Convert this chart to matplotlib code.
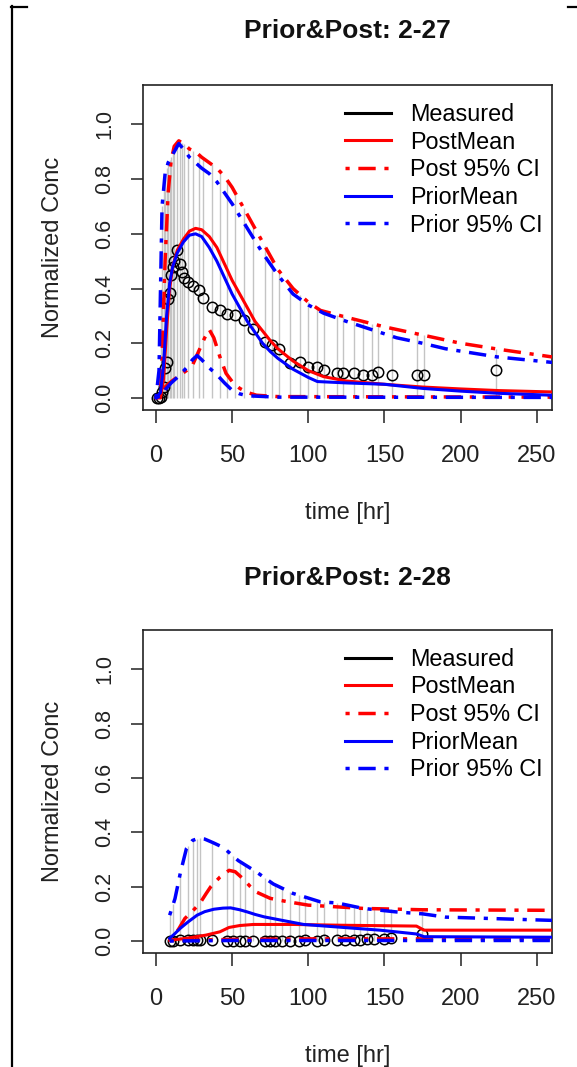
import numpy as np
import matplotlib
matplotlib.use('Agg')
import matplotlib.pyplot as plt
from matplotlib.lines import Line2D

plt.rcParams['font.family'] = ['Liberation Sans', 'DejaVu Sans']

# ---- panel 1: 2-27 ----
meas_t_27 = [0.5, 2, 3, 4, 5, 6, 7, 8, 9, 10, 11, 12, 13.5, 15.5, 17, 18.5, 21, 24.5, 28, 31,
             36.5, 42, 46.5, 52, 57.5, 64, 71.5, 76, 80.5, 88, 94.5, 100, 105.5, 110, 119, 123,
             130, 136, 142, 146, 155, 171.5, 176, 223]
meas_y_27 = [0.0, 0.0, 0.005, 0.02, 0.04, 0.11, 0.13, 0.36, 0.385, 0.45, 0.48, 0.5, 0.54, 0.49,
             0.46, 0.44, 0.425, 0.41, 0.395, 0.365, 0.333, 0.32, 0.308, 0.302, 0.284, 0.253,
             0.205, 0.193, 0.18, 0.126, 0.132, 0.115, 0.114, 0.102, 0.09, 0.09, 0.09, 0.084,
             0.084, 0.096, 0.084, 0.084, 0.084, 0.102]

post_mean_t_27 = [0, 3, 5, 7, 9, 11, 14, 18, 22, 26, 30, 35, 40, 45, 50, 55, 60, 65, 70, 75, 80,
                  90, 100, 110, 125, 150, 175, 200, 225, 260]
post_mean_27 = [0.0, 0.0, 0.07, 0.25, 0.4, 0.48, 0.54, 0.58, 0.61, 0.62, 0.615, 0.59, 0.55, 0.49,
                0.43, 0.38, 0.33, 0.28, 0.245, 0.21, 0.18, 0.135, 0.1, 0.078, 0.062, 0.05, 0.04,
                0.033, 0.027, 0.022]

prior_mean_t_27 = [0, 3, 5, 7, 9, 11, 14, 18, 22, 26, 30, 35, 40, 45, 50, 55, 60, 65, 70, 75, 80,
                   90, 100, 106, 125, 150, 175, 200, 225, 260]
prior_mean_27 = [0.0, 0.02, 0.12, 0.3, 0.42, 0.48, 0.53, 0.57, 0.595, 0.6, 0.59, 0.55, 0.5, 0.44,
                 0.38, 0.33, 0.28, 0.24, 0.2, 0.17, 0.145, 0.105, 0.075, 0.06, 0.055, 0.05, 0.035,
                 0.025, 0.017, 0.01]

post_hi_t_27 = [0, 3, 4, 6, 8, 10, 12, 15, 18, 22, 26, 30, 35, 40, 45, 50, 55, 60, 65, 70, 75, 80,
                90, 100, 108, 125, 150, 175, 200, 225, 260]
post_hi_27 = [0.0, 0.02, 0.15, 0.5, 0.75, 0.87, 0.92, 0.94, 0.93, 0.91, 0.9, 0.88, 0.86, 0.84,
              0.81, 0.77, 0.72, 0.67, 0.62, 0.57, 0.52, 0.47, 0.4, 0.35, 0.32, 0.295, 0.26, 0.23,
              0.2, 0.178, 0.15]

prior_hi_t_27 = [0, 2, 3, 4, 6, 8, 10, 12, 15, 18, 22, 26, 30, 35, 40, 50, 60, 70, 80, 90, 100,
                 110, 125, 136, 158, 175, 190, 224, 260]
prior_hi_27 = [0.0, 0.1, 0.4, 0.7, 0.82, 0.86, 0.88, 0.9, 0.93, 0.91, 0.88, 0.86, 0.84, 0.82, 0.79,
               0.71, 0.62, 0.53, 0.45, 0.38, 0.34, 0.31, 0.28, 0.26, 0.22, 0.2, 0.18, 0.15, 0.13]

post_lo_t_27 = [0, 4, 6, 10, 15, 20, 24, 28, 32, 35, 38, 42, 46, 50, 55, 60, 66, 80, 260]
post_lo_27 = [0.0, 0.01, 0.04, 0.06, 0.08, 0.1, 0.12, 0.17, 0.22, 0.25, 0.22, 0.15, 0.09, 0.06,
              0.035, 0.02, 0.01, 0.005, 0.003]

prior_lo_t_27 = [0, 4, 6, 10, 15, 20, 24, 27, 30, 35, 40, 45, 50, 55, 60, 80, 260]
prior_lo_27 = [0.0, 0.01, 0.03, 0.055, 0.08, 0.11, 0.14, 0.155, 0.14, 0.11, 0.085, 0.055, 0.028,
               0.015, 0.008, 0.003, 0.002]

# ---- panel 2: 2-28 ----
meas_t_28 = [9.2, 11.4, 15.8, 21.3, 24.6, 26.8, 28.9, 36.6, 46.5, 50.9, 55.3, 58.6, 64, 71.7, 75,
             78.3, 82.7, 88.2, 93.6, 98, 105.7, 110, 118.9, 124.3, 129.8, 134.2, 138.6, 143,
             149.6, 154, 174.8]
meas_y_28 = [0.0, 0.0, 0.002, 0.004, 0.004, 0.003, 0.003, 0.002, 0.0, 0.0, 0.0, 0.0, 0.0, 0.0,
             0.0, 0.0, 0.0, 0.0, 0.0, 0.003, 0.0, 0.005, 0.005, 0.004, 0.004, 0.004, 0.006,
             0.008, 0.008, 0.01, 0.025]

post_mean_t_28 = [9, 20, 33, 42, 48, 55, 64, 90, 123, 171, 176, 260]
post_mean_28 = [0.003, 0.01, 0.022, 0.034, 0.05, 0.057, 0.061, 0.061, 0.058, 0.055, 0.04, 0.04]

prior_mean_t_28 = [9, 12, 16, 21, 27, 32, 38, 44, 49, 55, 60, 65, 71, 82, 97, 123, 147, 171, 176,
                   260]
prior_mean_28 = [0.01, 0.025, 0.047, 0.07, 0.095, 0.108, 0.117, 0.121, 0.122, 0.115, 0.107, 0.098,
                 0.089, 0.077, 0.061, 0.05, 0.04, 0.026, 0.016, 0.014]

post_hi_t_28 = [9, 12, 15, 19, 24, 29, 33, 36, 42, 48, 52, 57, 62, 66, 75, 86, 100, 115, 136, 175,
                260]
post_hi_28 = [0.0, 0.02, 0.045, 0.083, 0.11, 0.14, 0.175, 0.2, 0.235, 0.26, 0.255, 0.23, 0.2,
              0.18, 0.157, 0.145, 0.132, 0.127, 0.12, 0.115, 0.113]

prior_hi_t_28 = [9, 12.5, 16, 20, 24, 28, 32, 37, 42, 46.5, 54, 60, 66, 77, 90, 96, 108, 119, 136,
                 158, 175, 190, 225, 260]
prior_hi_28 = [0.095, 0.156, 0.25, 0.34, 0.37, 0.378, 0.375, 0.363, 0.35, 0.333, 0.296, 0.275,
               0.254, 0.21, 0.175, 0.165, 0.144, 0.14, 0.12, 0.107, 0.1, 0.088, 0.082, 0.076]

post_lo_t_28 = [9, 50, 100, 175, 260]
post_lo_28 = [0.002, 0.006, 0.008, 0.008, 0.008]

prior_lo_t_28 = [9, 50, 100, 175, 260]
prior_lo_28 = [0.0, 0.002, 0.002, 0.002, 0.002]

titles = ['Prior&Post: 2-27', 'Prior&Post: 2-28']
x_ticks = [0, 50, 100, 150, 200, 250]
y_ticks = [0.0, 0.2, 0.4, 0.6, 0.8, 1.0]
legend_labels = ['Measured', 'PostMean', 'Post 95% CI', 'PriorMean', 'Prior 95% CI']

W, H = 577, 1067
fig = plt.figure(figsize=(W / 100, H / 100), dpi=100)

DASHDOT = (1.2, 2.5, 5, 2.5)


def panel(ax, mt, my, pm_t, pm, qm_t, qm, ph_t, ph, qh_t, qh, pl_t, pl, ql_t, ql):
    mt = np.asarray(mt)
    top = np.maximum(np.interp(mt, ph_t, ph), np.interp(mt, qh_t, qh))
    ax.vlines(mt, 0, top, color='#c4c4c4', lw=1.0, zorder=1)
    ax.plot(mt, my, 'o', mfc='none', mec='black', ms=7.5, mew=1.1, zorder=2)
    ax.plot(pm_t, pm, color='red', lw=2.2, zorder=3)
    ax.plot(ph_t, ph, color='red', lw=2.5, dashes=DASHDOT, zorder=3)
    ax.plot(pl_t, pl, color='red', lw=2.5, dashes=DASHDOT, zorder=3)
    ax.plot(qm_t, qm, color='blue', lw=2.2, zorder=4)
    ax.plot(qh_t, qh, color='blue', lw=2.5, dashes=DASHDOT, zorder=4)
    ax.plot(ql_t, ql, color='blue', lw=2.5, dashes=DASHDOT, zorder=4)

    ax.set_xlim(-8.5, 260)
    ax.set_ylim(-0.044, 1.144)
    ax.set_xticks(x_ticks)
    ax.set_xticklabels([str(v) for v in x_ticks], fontsize=17)
    ax.set_yticks(y_ticks)
    ax.set_yticklabels(['%.1f' % v for v in y_ticks], fontsize=15.5, rotation=90, va='center')
    ax.tick_params(axis='x', length=9, width=1.1, pad=16, colors='#222222')
    ax.tick_params(axis='y', length=9, width=1.1, pad=11, colors='#222222')
    for s in ax.spines.values():
        s.set_linewidth(1.2)
        s.set_color('#222222')

    handles = [Line2D([], [], color='black', lw=2.2),
               Line2D([], [], color='red', lw=2.2),
               Line2D([], [], color='red', lw=2.5, dashes=DASHDOT),
               Line2D([], [], color='blue', lw=2.2),
               Line2D([], [], color='blue', lw=2.5, dashes=DASHDOT)]
    ax.legend(handles, legend_labels, loc='upper right', bbox_to_anchor=(0.978, 0.945),
              frameon=False, fontsize=16.8, handlelength=1.95, handletextpad=0.85,
              labelspacing=0.2, borderpad=0, borderaxespad=0)


# axes boxes in pixels: (left, top, right, bottom)
boxes = [(143, 85, 552, 410), (143, 630, 552, 953)]
data = [
    (meas_t_27, meas_y_27, post_mean_t_27, post_mean_27, prior_mean_t_27, prior_mean_27,
     post_hi_t_27, post_hi_27, prior_hi_t_27, prior_hi_27, post_lo_t_27, post_lo_27,
     prior_lo_t_27, prior_lo_27),
    (meas_t_28, meas_y_28, post_mean_t_28, post_mean_28, prior_mean_t_28, prior_mean_28,
     post_hi_t_28, post_hi_28, prior_hi_t_28, prior_hi_28, post_lo_t_28, post_lo_28,
     prior_lo_t_28, prior_lo_28),
]
title_base = [38, 585]

for (l, t, r, b), d, title, tb in zip(boxes, data, titles, title_base):
    ax = fig.add_axes([l / W, 1 - b / H, (r - l) / W, (b - t) / H])
    panel(ax, *d)
    cx = (l + r) / 2 / W
    fig.text(cx, 1 - tb / H, title, ha='center', va='baseline', fontsize=19,
             fontweight='bold', color='#111111')
    fig.text(cx, 1 - (b + 109) / H, 'time [hr]', ha='center', va='baseline', fontsize=17,
             color='#222222')
    fig.text(53 / W, 1 - (t + b) / 2 / H, 'Normalized Conc', rotation=90, ha='center',
             va='center', fontsize=17, color='#222222')

# scan border
fig.add_artist(Line2D([12 / W, 12 / W], [0, 1 - 6 / H], transform=fig.transFigure,
                      color='black', lw=1.6))
fig.add_artist(Line2D([11 / W, 27 / W], [1 - 6.5 / H, 1 - 6.5 / H], transform=fig.transFigure,
                      color='black', lw=1.6))
fig.add_artist(Line2D([568 / W, 1], [1 - 6.5 / H, 1 - 6.5 / H], transform=fig.transFigure,
                      color='black', lw=1.6))

fig.savefig('out.png', dpi=100)
